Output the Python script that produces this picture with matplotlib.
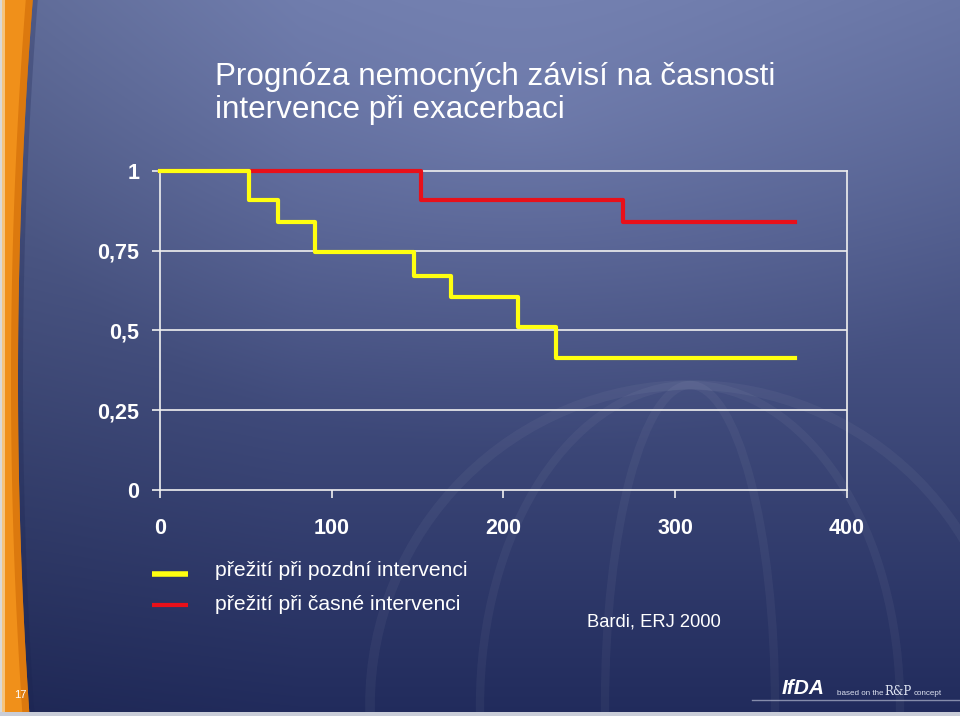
import numpy as np
import matplotlib
matplotlib.use("Agg")
import matplotlib.pyplot as plt
from matplotlib.patches import Ellipse, Arc

plt.rcParams['font.family'] = ['Liberation Sans', 'DejaVu Sans']

# ---- data ----
late_t = [0, 52, 68.5, 90.5, 147.7, 169.3, 208.6, 230.3, 370]
late_s = [1, 0.91, 0.84, 0.745, 0.672, 0.605, 0.511, 0.415, 0.415]
early_t = [0, 151.7, 269.6, 370]
early_s = [1, 0.91, 0.839, 0.839]
x_ticks = [0, 100, 200, 300, 400]
y_ticks = [0, 0.25, 0.5, 0.75, 1]
y_labels = ["0", "0,25", "0,5", "0,75", "1"]
title_lines = ["Prognóza nemocných závisí na časnosti", "intervence při exacerbaci"]
legend_labels = ["přežití při pozdní intervenci", "přežití při časné intervenci"]
source = "Bardi, ERJ 2000"

W, H = 960, 716
fig = plt.figure(figsize=(W / 100, H / 100), dpi=100)

# ---- background ----
bg = fig.add_axes([0, 0, 1, 1])
bg.set_xlim(0, W)
bg.set_ylim(H, 0)
bg.axis('off')
yy, xx = np.mgrid[0:H, 0:W]
t = yy / H
top = np.array([104, 117, 165]) / 255
bot = np.array([33, 43, 92]) / 255
img = top[None, None, :] * (1 - t[..., None]) + bot[None, None, :] * t[..., None]
d = np.sqrt(((xx - 520) / 520) ** 2 + ((yy - 120) / 330) ** 2)
hl = np.clip(1 - d, 0, 1)[..., None] * 0.07
img = np.clip(img + hl, 0, 1)
img = img * (1 - 0.08 * np.clip(1 - xx / 300, 0, 1))[..., None]
bg.imshow(img, extent=[0, W, H, 0], aspect='auto', zorder=0)

# faint globe watermark
gc = (690, 705)
ga = 0.045
bg.add_patch(Ellipse(gc, 640, 640, fill=False, ec='white', lw=7, alpha=ga, zorder=1))
for w in [420, 170]:
    bg.add_patch(Ellipse(gc, w, 640, fill=False, ec='white', lw=6, alpha=ga, zorder=1))
bg.add_patch(Arc((690, 900), 1400, 800, theta1=0, theta2=180, ec='white', lw=6,
                 alpha=ga, zorder=1))

# orange stripe on the left
ys = np.linspace(0, H, 200)
xr = 18 + 14 * ((ys - 380) / 370) ** 2
bg.fill_betweenx(ys, 0, xr, color='#f0901a', zorder=2, lw=0)
bg.fill_betweenx(ys, xr - 7, xr, color='#dc790e', zorder=2, lw=0)
bg.fill_betweenx(ys, xr, xr + 5, color='#1a2350', alpha=0.25, zorder=2, lw=0)
bg.fill_betweenx(ys, 0, 5, color='#f6c47c', zorder=3, lw=0)
bg.fill_betweenx(ys, 0, 2, color='#d8d8d8', zorder=3, lw=0)
bg.fill_between([0, W], 712, 716, color='#c9cdd8', zorder=3, lw=0)

bg.text(14, 695, "17", color='white', fontsize=8, ha='left', va='center', zorder=4)

# logo area
bg.plot([752, 960], [700, 700], color='#c8cde0', lw=1, alpha=0.6, zorder=4)
bg.text(782, 694, "IfDA", color='white', fontsize=15, fontweight='bold', style='italic',
        ha='left', va='baseline', zorder=4)
bg.text(837, 695, "based on the", color='#dde2f0', fontsize=5.8, ha='left', va='baseline', zorder=4)
bg.text(884, 695, "R&P", color='#dde2f0', fontsize=8.5, family='DejaVu Serif', ha='left',
        va='baseline', zorder=4)
bg.text(914, 695, "concept", color='#dde2f0', fontsize=5.8, ha='left', va='baseline', zorder=4)

# ---- title ----
bg.text(215, 85, title_lines[0], color='white', fontsize=22.6, ha='left', va='baseline', zorder=4)
bg.text(215, 118, title_lines[1], color='white', fontsize=22.6, ha='left', va='baseline', zorder=4)

# ---- chart ----
x0, x1 = 160, 847
y0, y1 = 490, 171
ax = fig.add_axes([x0 / W, 1 - y0 / H, (x1 - x0) / W, (y0 - y1) / H])
ax.set_facecolor('none')
ax.set_xlim(0, 400)
ax.set_ylim(0, 1)
for s in ax.spines.values():
    s.set_color('#f0f0f0')
    s.set_linewidth(1.2)
ax.set_yticks(y_ticks)
ax.set_yticklabels(y_labels)
ax.set_xticks(x_ticks)
ax.tick_params(direction='out', length=6, width=1.2, color='#f0f0f0', labelcolor='white',
               labelsize=15.5)
ax.tick_params(axis='y', pad=9)
ax.tick_params(axis='x', pad=14)
for lab in ax.get_xticklabels() + ax.get_yticklabels():
    lab.set_fontweight('bold')
for yv in y_ticks[1:-1]:
    ax.axhline(yv, color='#f0f0f0', lw=1.2, zorder=1)

ax.step(early_t, early_s, where='post', color='#e8101a', lw=3, zorder=3, clip_on=False)
ax.step(late_t, late_s, where='post', color='#ffff10', lw=3, zorder=4, clip_on=False)

# ---- legend ----
bg.plot([152, 188], [574, 574], color='#ffff10', lw=4, zorder=4, solid_capstyle='butt')
bg.plot([152, 188], [605, 605], color='#e8101a', lw=3, zorder=4, solid_capstyle='butt')
bg.text(215, 571, legend_labels[0], color='white', fontsize=15.2, ha='left', va='center', zorder=4)
bg.text(215, 605, legend_labels[1], color='white', fontsize=15.2, ha='left', va='center', zorder=4)
bg.text(587, 622, source, color='white', fontsize=13.2, ha='left', va='center', zorder=4)

fig.savefig('out.png', dpi=100)
